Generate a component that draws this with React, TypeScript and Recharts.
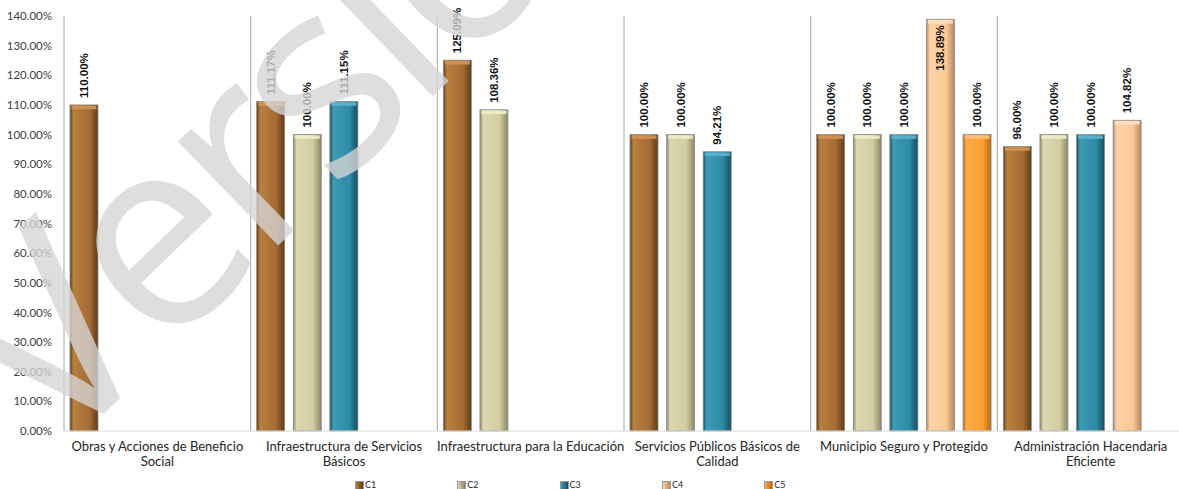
import React from 'react';
import { BarChart, Bar, XAxis, YAxis, CartesianGrid, Legend } from 'recharts';

// category names, line breaks as in the original chart
const categories = [
  'Obras y Acciones de Beneficio\nSocial',
  'Infraestructura de Servicios\nBásicos',
  'Infraestructura para la Educación',
  'Servicios Públicos Básicos de\nCalidad',
  'Municipio Seguro y Protegido',
  'Administración Hacendaria\nEficiente',
];

const c1 = [110.0, 111.17, 125.09, 100.0, 100.0, 96.0];
const c2 = [null, 100.0, 108.36, 100.0, 100.0, 100.0];
const c3 = [null, 111.15, null, 94.21, 100.0, 100.0];
const c4 = [null, null, null, null, 138.89, 104.82];
const c5 = [null, null, null, null, 100.0, null];

const yTicks = [0, 10, 20, 30, 40, 50, 60, 70, 80, 90, 100, 110, 120, 130, 140];

const seriesNames = ['C1', 'C2', 'C3', 'C4', 'C5'];

const palette: Record<string, { light: string; mid: string; dark: string; top: string }> = {
  C1: { light: '#b8803f', mid: '#a56b35', dark: '#5f3a17', top: '#d59455' },
  C2: { light: '#dcd8b0', mid: '#d2cda1', dark: '#8c8866', top: '#efeccb' },
  C3: { light: '#3c9bb6', mid: '#2e8ba5', dark: '#164c5c', top: '#5cb5cf' },
  C4: { light: '#ffd3a8', mid: '#fdc996', dark: '#b58860', top: '#ffe2c2' },
  C5: { light: '#ffab48', mid: '#fd9f34', dark: '#b56a14', top: '#ffc27a' },
};

const data = categories.map((name, i) => ({
  name,
  C1: c1[i],
  C2: c2[i],
  C3: c3[i],
  C4: c4[i],
  C5: c5[i],
}));

const fmt = (v: number) => `${v.toFixed(2)}%`;

function CylinderBar(props: any) {
  const { x, y, width, height, dataKey } = props;
  if (!height || height <= 0) return null;
  const p = palette[dataKey];
  return (
    <g>
      <rect x={x} y={y} width={width} height={height} fill={`url(#grad-${dataKey})`} stroke="#8c8c8c" strokeWidth={0.8} />
      <rect x={x + 1.5} y={y + 0.8} width={width - 3} height={3.5} fill={p.top} opacity={0.9} />
    </g>
  );
}

function ValueLabel(props: any) {
  const { x, y, width, value } = props;
  if (value == null) return null;
  const cx = x + width / 2 + 4;
  const inside = y < 60;
  const ay = inside ? y + 6 : y - 7;
  return (
    <text
      x={cx}
      y={ay}
      transform={`rotate(-90 ${cx} ${ay})`}
      textAnchor={inside ? 'end' : 'start'}
      fontSize={11.5}
      fontWeight="bold"
      fontFamily="'Liberation Sans', Arial, sans-serif"
      fill="#111"
    >
      {fmt(value)}
    </text>
  );
}

function CategoryTick(props: any) {
  const { x, y, payload } = props;
  const lines = String(payload.value).split('\n');
  return (
    <text textAnchor="middle" fontSize={13} fontFamily="Lato, sans-serif" fill="#262626">
      {lines.map((l, i) => (
        <tspan key={i} x={x} y={y + 12 + i * 15}>
          {l}
        </tspan>
      ))}
    </text>
  );
}

function LegendContent() {
  return (
    <div style={{ position: 'relative', width: 1179, height: 14, fontFamily: 'Lato, sans-serif', fontSize: 9, color: '#262626' }}>
      {seriesNames.map((s, i) => (
        <div
          key={s}
          style={{ position: 'absolute', left: 355 + i * 102.3, top: 5, height: 10, lineHeight: '10px', display: 'flex', alignItems: 'center' }}
        >
          <span
            style={{
              display: 'inline-block',
              width: 7,
              height: 7,
              marginRight: 1,
              background: `linear-gradient(90deg, ${palette[s].light}, ${palette[s].dark})`,
              border: '0.5px solid #999',
            }}
          />
          <span>{s}</span>
        </div>
      ))}
    </div>
  );
}

export default function App() {
  return (
    <div style={{ position: 'fixed', left: 0, top: 0, width: 1179, height: 489, overflow: 'hidden', background: '#fff' }}>
      <BarChart
        width={1190}
        height={489}
        data={data}
        margin={{ top: 16, right: 6, left: 8, bottom: 4 }}
        barSize={28}
        barGap={8.6}
      >
        <defs>
          {seriesNames.map((s) => (
            <linearGradient key={s} id={`grad-${s}`} x1="0" y1="0" x2="1" y2="0">
              <stop offset="0%" stopColor={palette[s].dark} />
              <stop offset="12%" stopColor={palette[s].light} />
              <stop offset="70%" stopColor={palette[s].mid} />
              <stop offset="100%" stopColor={palette[s].dark} />
            </linearGradient>
          ))}
        </defs>
        <CartesianGrid
          horizontal={false}
          stroke="#a6a6a6"
          verticalCoordinatesGenerator={({ offset }: any) =>
            [1, 2, 3, 4, 5].map((i) => offset.left + (offset.width * i) / categories.length)
          }
        />
        <XAxis
          dataKey="name"
          height={40}
          interval={0}
          tickLine={false}
          axisLine={{ stroke: '#d9d9d9' }}
          tick={<CategoryTick />}
        />
        <YAxis
          width={56}
          domain={[0, 140]}
          ticks={yTicks}
          tickFormatter={fmt}
          tickLine={false}
          axisLine={{ stroke: '#a6a6a6' }}
          tick={{ fontSize: 11.5, fill: '#404040', fontFamily: 'Lato, sans-serif' }}
          tickMargin={6}
        />
        <Legend
          verticalAlign="bottom"
          height={14}
          wrapperStyle={{ left: 0, top: 475, width: 1179, height: 14 }}
          content={<LegendContent />}
        />
        {seriesNames.map((s) => (
          <Bar key={s} dataKey={s} isAnimationActive={false} shape={<CylinderBar />} label={<ValueLabel />} />
        ))}
      </BarChart>
      <svg width={1179} height={489} style={{ position: 'absolute', left: 0, top: 0, pointerEvents: 'none' }}>
        <text
          transform="translate(54 462) rotate(-44)"
          fontSize={270}
          letterSpacing={-12}
          fontFamily="'Open Sans', sans-serif"
          fill="#d6d6d6"
          opacity={0.78}
        >
          Versión
        </text>
      </svg>
    </div>
  );
}
